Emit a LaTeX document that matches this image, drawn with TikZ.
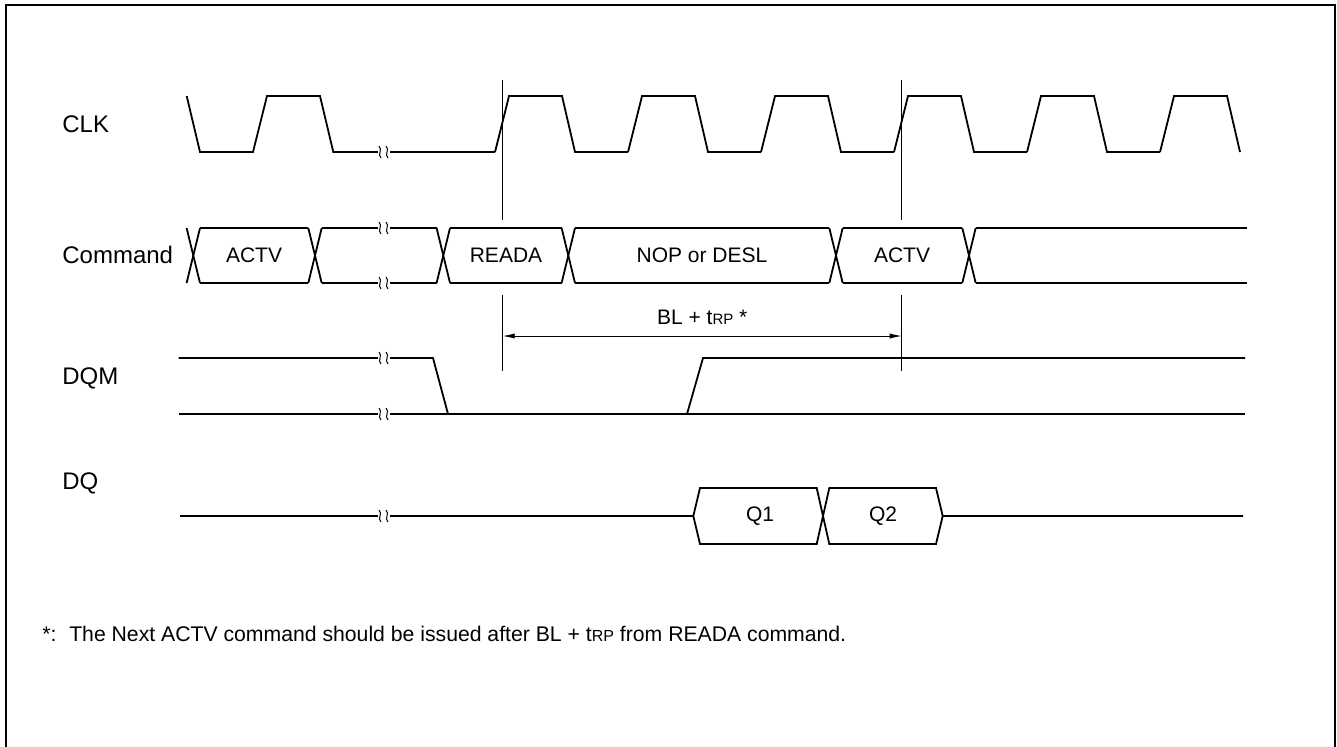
\documentclass[tikz,border=0pt]{standalone}
\usepackage{fontspec}
\setmainfont{Liberation Sans}
\usepackage{tikz}
\usetikzlibrary{arrows.meta}

% break mark on a waveform line
\newcommand{\wavebreak}[2]{%
  \fill[white] ({#1-6},{#2-3}) rectangle ({#1+6},{#2+3});
  \draw[line width=0.5pt] ({#1-5},{#2-6}) .. controls ({#1-1},{#2-2}) and ({#1-7},{#2+2}) .. ({#1-3},{#2+6});
  \draw[line width=0.5pt] ({#1+2},{#2-6}) .. controls ({#1+6},{#2-2}) and ({#1},{#2+2}) .. ({#1+4},{#2+6});}

\begin{document}
\begin{tikzpicture}[x=0.5pt, y=-0.5pt,
  wave/.style={line width=0.9pt, line join=miter},
  refl/.style={line width=0.45pt},
  sig/.style={font=\fontsize{12}{14}\selectfont, anchor=west, inner sep=0pt},
  boxlab/.style={font=\fontsize{10.5}{12}\selectfont, inner sep=0pt},
  notelab/.style={font=\fontsize{10.6}{13}\selectfont, anchor=west, inner sep=0pt},
  dimarr/.style={{Latex[length=6pt,width=2.6pt]}-{Latex[length=6pt,width=2.6pt]}, line width=0.45pt}]
\useasboundingbox (0,0) rectangle (1337,746);
\draw[line width=1.1pt] (6,760) -- (6,5) -- (1335,5) -- (1335,760);
% ---- signal names ----
\node[sig] (clk) at (62,124) {CLK};
\node[sig] (cmd) at (62,255) {Command};
\node[sig] (dqm) at (62,378) {DQM};
\node[sig] (dq) at (62,483) {DQ};
% ---- CLK ----
\draw[wave] (186.7,96) -- (200,152) -- (253,152) -- (267,96) -- (320,96)
  -- (333.3,152) -- (495,152);
\foreach \k in {0,...,4}{
  \pgfmathsetmacro{\r}{495+133*\k}
  \draw[wave] (\r,152) -- ({\r+14},96) -- ({\r+67},96) -- ({\r+80},152) -- ({\r+133},152);
}
\draw[wave] (1160,152) -- (1174,96) -- (1227,96) -- (1240,152);
\wavebreak{384}{152}
% ---- Command bus ----
\foreach \a/\b in {193.3/315, 315/443.3, 443.3/568.3, 568.3/836, 836/969}{
  \draw[wave] ({\a+6.7},228) -- ({\b-6.7},228);
  \draw[wave] ({\a+6.7},283) -- ({\b-6.7},283);
}
\foreach \c in {193.3, 315, 443.3, 568.3, 836, 969}{
  \draw[wave] ({\c-6.7},228) -- ({\c+6.7},283);
  \draw[wave] ({\c-6.7},283) -- ({\c+6.7},228);
}
\draw[wave] (975.7,228) -- (1246.7,228);
\draw[wave] (975.7,283) -- (1246.7,283);
\wavebreak{384}{228}
\wavebreak{384}{283}
\node[boxlab] (actva) at (254,255) {ACTV};
\node[boxlab] (reada) at (506,255) {READA};
\node[boxlab] (nop) at (702,255) {NOP or DESL};
\node[boxlab] (actvb) at (902,255) {ACTV};
% ---- DQM ----
\draw[wave] (178.7,358) -- (433,358) -- (448,414);
\draw[wave] (178.7,414) -- (1245,414);
\draw[wave] (687,414) -- (703,358) -- (1245,358);
\wavebreak{384}{358}
\wavebreak{384}{414}
% ---- DQ ----
\draw[wave] (180,516) -- (693.3,516) -- (700,488) -- (816.7,488) -- (829.3,544)
  -- (936,544) -- (942.7,516) -- (1243,516);
\draw[wave] (693.3,516) -- (700,544) -- (816.7,544) -- (829.3,488) -- (936,488)
  -- (942.7,516);
\wavebreak{384}{516}
\node[boxlab] (q1) at (760,516) {Q1};
\node[boxlab] (q2) at (883,516) {Q2};
% ---- reference lines and BL + tRP ----
\coordinate (ra) at (502.7,336);
\coordinate (rb) at (901.7,336);
\draw[refl] (502.7,80) -- (502.7,220) (502.7,295) -- (502.7,371);
\draw[refl] (901.7,80) -- (901.7,220) (901.7,295) -- (901.7,371);
\draw[dimarr] (ra) -- node[boxlab, above=5.5pt] (blt) {BL + t{\fontsize{7.5}{9}\selectfont RP} *} (rb);
% ---- footnote ----
\node[notelab] (note) at (42,634)
  {*:\hspace{0.6em}The Next ACTV command should be issued after BL + t{\fontsize{8}{9}\selectfont RP} from READA command.};
\end{tikzpicture}
\end{document}
